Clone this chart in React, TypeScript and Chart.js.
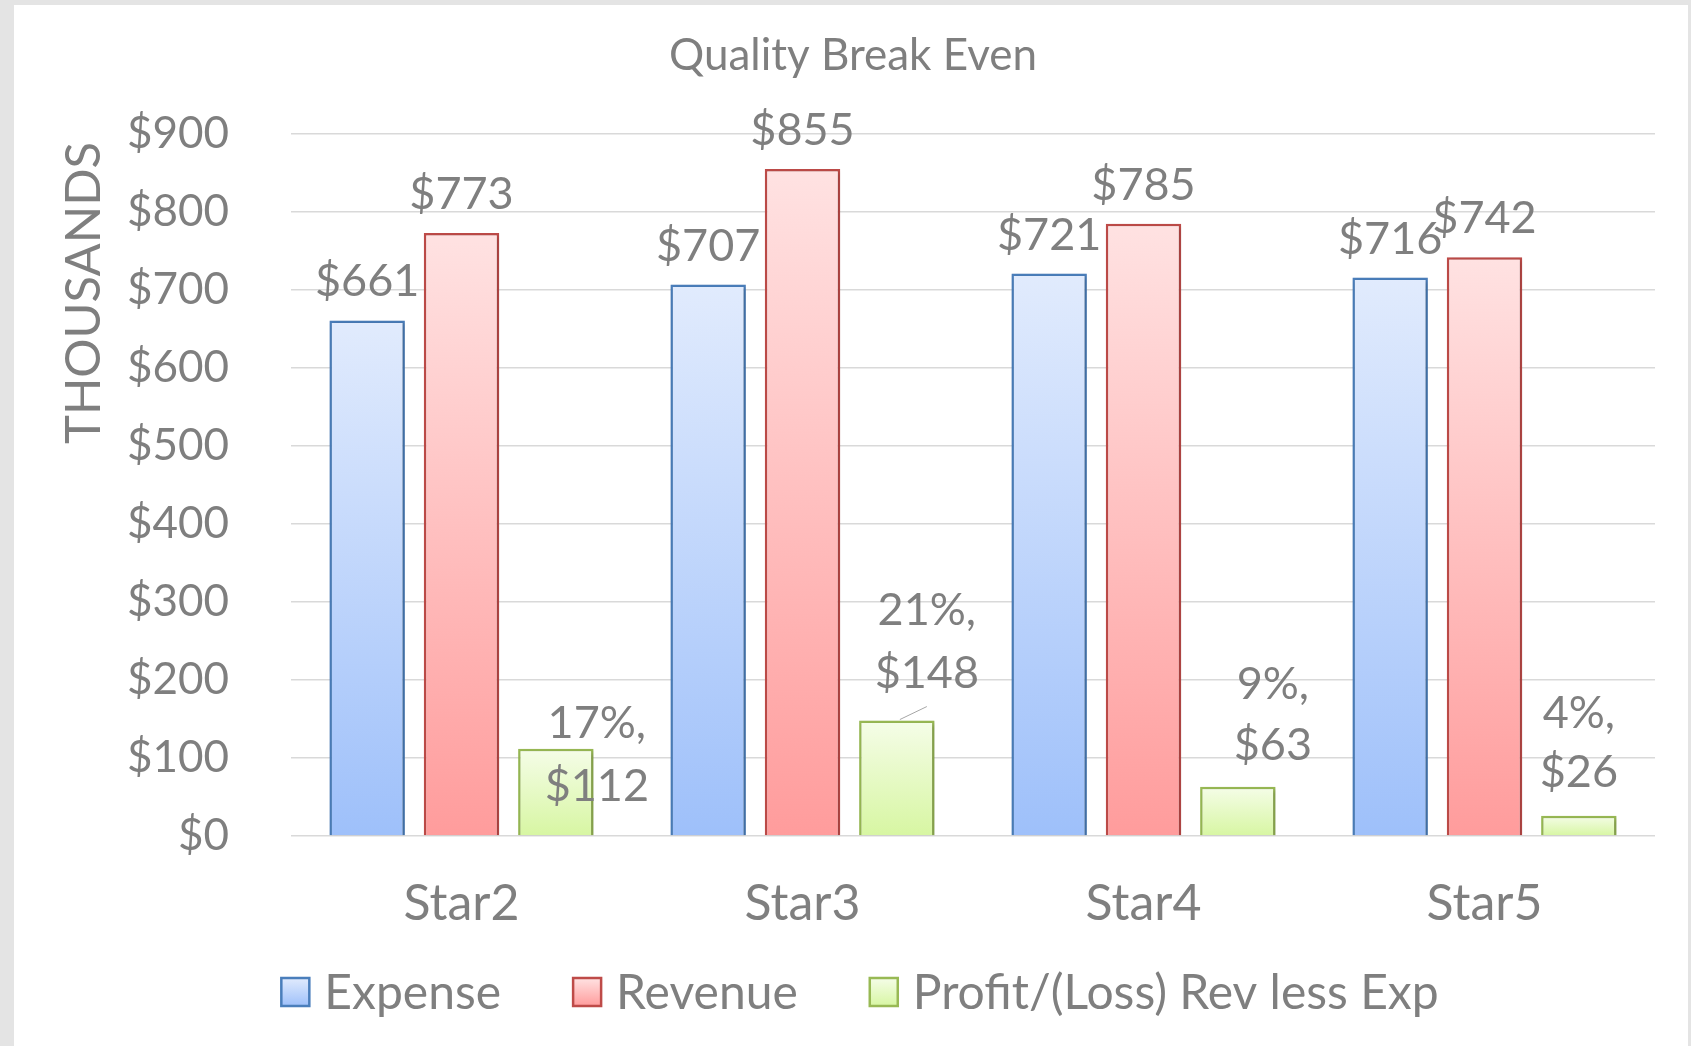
import React, { useEffect, useRef } from "react";
import { Chart, registerables } from "chart.js";

Chart.register(...registerables);

// ---- data ----
const TITLE = "Quality Break Even";
const Y_TITLE = "THOUSANDS";
const categories = ["Star2", "Star3", "Star4", "Star5"];
const expense = [661, 707, 721, 716];
const revenue = [773, 855, 785, 742];
const profit = [112, 148, 63, 26];
const profitPct = [17, 21, 9, 4];
const seriesNames = ["Expense", "Revenue", "Profit/(Loss) Rev less Exp"];
const yMax = 900;
const yStep = 100;

// ---- styles ----
const FONT = 'Lato, "Open Sans", "DejaVu Sans", sans-serif';
const TEXT = "#7f7f7f";
const GRID = "#d9d9d9";
const COLORS = [
  { top: "#e1ebfd", bottom: "#9ec0fa", border: "#4a7ebb" },
  { top: "#ffe2e2", bottom: "#ff9c9c", border: "#be4b48" },
  { top: "#f5fde8", bottom: "#d7f6a2", border: "#98b954" },
];
// label offsets (px) for profit labels relative to bar top centre: [dx, dyLine1, dyLine2]
const profitLabelOffsets = [
  [41, -25, 38],
  [30, -110, -47],
  [35, -102, -41],
  [0, -102, -43],
];

const W = 1674;
const H = 1041;

function barGradient(i: number) {
  return (c: any) => {
    const chart = c.chart;
    const area = chart.chartArea;
    if (!area || c.type !== "data") return COLORS[i].bottom;
    const y = chart.scales.y;
    const y0 = y.getPixelForValue(c.raw as number);
    const y1 = y.getPixelForValue(0);
    const g = chart.ctx.createLinearGradient(0, y0, 0, y1);
    g.addColorStop(0, COLORS[i].top);
    g.addColorStop(1, COLORS[i].bottom);
    return g;
  };
}

const shadowPlugin = {
  id: "barShadow",
  beforeDatasetsDraw(chart: any) {
    const ctx = chart.ctx;
    ctx.save();
    ctx.shadowColor = "rgba(0,0,0,0.22)";
    ctx.shadowBlur = 4;
    ctx.shadowOffsetX = 1.5;
    ctx.shadowOffsetY = 1.5;
  },
  afterDatasetsDraw(chart: any) {
    chart.ctx.restore();
  },
};

const textPlugin = {
  id: "customText",
  afterDraw(chart: any) {
    const ctx = chart.ctx as CanvasRenderingContext2D;
    ctx.save();
    ctx.fillStyle = TEXT;

    // title
    ctx.font = `44px ${FONT}`;
    ctx.textAlign = "center";
    ctx.textBaseline = "middle";
    ctx.fillText(TITLE, W / 2 + 2, 51);

    // y-axis title
    ctx.save();
    ctx.translate(70, 288);
    ctx.rotate(-Math.PI / 2);
    ctx.font = `49px ${FONT}`;
    ctx.textAlign = "center";
    ctx.textBaseline = "middle";
    ctx.fillText(Y_TITLE, 0, 0);
    ctx.restore();

    // data labels for expense & revenue
    ctx.font = `45px ${FONT}`;
    ctx.textAlign = "center";
    ctx.textBaseline = "alphabetic";
    [0, 1].forEach((di) => {
      const meta = chart.getDatasetMeta(di);
      const vals = chart.data.datasets[di].data as number[];
      meta.data.forEach((el: any, j: number) => {
        ctx.fillText(`$${vals[j]}`, el.x, el.y - 24);
      });
    });

    // profit labels
    const pm = chart.getDatasetMeta(2);
    ctx.textBaseline = "middle";
    pm.data.forEach((el: any, j: number) => {
      const [dx, d1, d2] = profitLabelOffsets[j];
      ctx.fillText(`${profitPct[j]}%,`, el.x + dx, el.y + d1);
      ctx.fillText(`$${profit[j]}`, el.x + dx, el.y + d2);
      if (j === 1) {
        ctx.save();
        ctx.strokeStyle = "#a6a6a6";
        ctx.lineWidth = 1;
        ctx.beginPath();
        ctx.moveTo(el.x + 3, el.y - 1);
        ctx.lineTo(el.x + 30, el.y - 14);
        ctx.stroke();
        ctx.restore();
      }
    });

    // legend
    ctx.font = `48px ${FONT}`;
    const box = 28;
    const gapText = 15;
    const gapItem = 72;
    const widths = seriesNames.map((n) => ctx.measureText(n).width);
    const total =
      widths.reduce((a, b) => a + b, 0) + seriesNames.length * (box + gapText) + gapItem * (seriesNames.length - 1);
    let x = W / 2 + 9 - total / 2;
    const cy = 987;
    ctx.textAlign = "left";
    ctx.textBaseline = "middle";
    seriesNames.forEach((n, i) => {
      const g = ctx.createLinearGradient(0, cy - box / 2, 0, cy + box / 2);
      g.addColorStop(0, COLORS[i].top);
      g.addColorStop(1, COLORS[i].bottom);
      ctx.fillStyle = g;
      ctx.fillRect(x, cy - box / 2, box, box);
      ctx.strokeStyle = COLORS[i].border;
      ctx.lineWidth = 2.5;
      ctx.strokeRect(x, cy - box / 2, box, box);
      ctx.fillStyle = TEXT;
      ctx.fillText(n, x + box + gapText, cy + 2);
      x += box + gapText + widths[i] + gapItem;
    });

    ctx.restore();
  },
};

export default function App() {
  const ref = useRef<HTMLCanvasElement | null>(null);

  useEffect(() => {
    if (!ref.current) return;
    const series = [expense, revenue, profit];
    const chart = new Chart(ref.current, {
      type: "bar",
      data: {
        labels: categories,
        datasets: series.map((d, i) => ({
          label: seriesNames[i],
          data: d,
          backgroundColor: barGradient(i),
          borderColor: COLORS[i].border,
          borderWidth: 2.5,
          categoryPercentage: 0.83,
          barPercentage: 0.8,
        })),
      },
      options: {
        responsive: false,
        animation: false,
        devicePixelRatio: 1,
        layout: { padding: { top: 129, left: 0, right: 33, bottom: 100 } },
        plugins: {
          legend: { display: false },
          title: { display: false },
          tooltip: { enabled: false },
        },
        scales: {
          x: {
            grid: { display: false, drawTicks: false },
            border: { display: false },
            ticks: { color: TEXT, font: { family: FONT, size: 50 }, padding: 38 },
            afterFit: (s: any) => {
              s.height = 110;
            },
          },
          y: {
            min: 0,
            max: yMax,
            grid: { color: GRID, lineWidth: 1.5, drawTicks: false },
            border: { display: false },
            ticks: {
              stepSize: yStep,
              color: TEXT,
              font: { family: FONT, size: 44 },
              padding: 62,
              callback: (v: any) => `$${v}`,
            },
            afterFit: (s: any) => {
              s.width = 277;
            },
          },
        },
      },
      plugins: [shadowPlugin, textPlugin],
    });
    return () => chart.destroy();
  }, []);

  return (
    <div
      style={{
        position: "fixed",
        left: 0,
        top: 0,
        width: 1691,
        height: 1046,
        background: "#e4e4e4",
      }}
    >
      <div
        style={{
          position: "absolute",
          left: 14,
          top: 5,
          width: W,
          height: H,
          background: "#ffffff",
        }}
      >
        <canvas ref={ref} width={W} height={H} style={{ display: "block", width: W, height: H }} />
      </div>
    </div>
  );
}
